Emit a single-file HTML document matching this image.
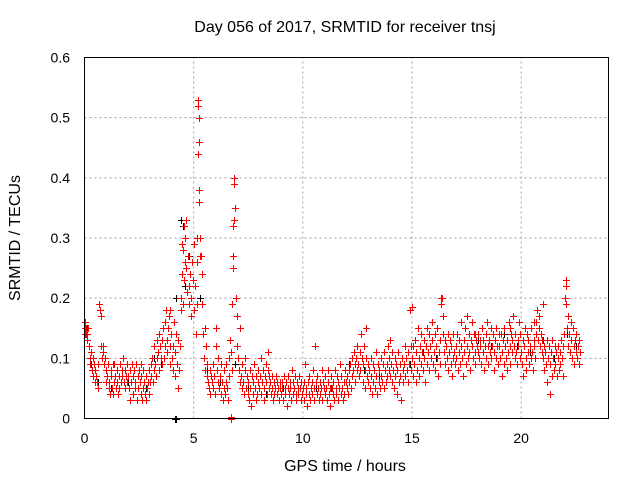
<!DOCTYPE html>
<html><head><meta charset="utf-8"><style>
body{margin:0;background:#fff;width:640px;height:480px;overflow:hidden}
svg{display:block;font-family:"Liberation Sans",sans-serif}
</style></head><body>
<svg id="chart" width="640" height="480" viewBox="0 0 640 480">
<text x="345" y="32" font-size="16" text-anchor="middle" fill="#000">Day 056 of 2017, SRMTID for receiver tnsj</text>
<g id="grid"></g>
<g id="ticks" font-size="14" fill="#000"></g>
<g id="marksB" stroke="#000" stroke-width="1"></g>
<g id="marksR" stroke="#f00" stroke-width="1"></g>
<rect x="84.5" y="57.5" width="524" height="361" fill="none" stroke="#000" stroke-width="1"/>
<text x="345" y="471" font-size="16" text-anchor="middle">GPS time / hours</text>
<text transform="translate(20,238) rotate(-90)" font-size="16" text-anchor="middle">SRMTID / TECUs</text>
</svg>
<script>
const xTicks=[0,5,10,15,20];
const yTicks=[0,0.1,0.2,0.3,0.4,0.5,0.6];
const yTickLabels=["0","0.1","0.2","0.3","0.4","0.5","0.6"];
const sampleStep=1/30; // hours between red samples
const redY=[
0.14,0.16,0.15,0.13,0.14,0.15,0.12,0.1,0.09,0.11,0.08,0.1,0.07,0.09,0.06,0.08,0.07,0.06,0.09,0.05,0.19,0.18,0.17,0.12,0.1,0.11,0.12,0.09,0.1,0.08,
0.06,0.07,0.09,0.05,0.06,0.04,0.07,0.08,0.05,0.04,0.06,0.09,0.07,0.05,0.08,0.06,0.04,0.07,0.05,0.09,0.06,0.08,0.07,0.1,0.06,0.05,0.08,0.07,0.06,0.09,
0.07,0.05,0.08,0.03,0.06,0.09,0.07,0.04,0.08,0.05,0.06,0.09,0.03,0.07,0.05,0.08,0.06,0.04,0.07,0.03,0.05,0.08,0.06,0.04,0.07,0.03,0.05,0.06,0.08,0.04,
0.06,0.09,0.07,0.1,0.06,0.08,0.12,0.09,0.07,0.13,0.1,0.11,0.14,0.08,0.12,0.1,0.09,0.13,0.15,0.1,0.12,0.16,0.18,0.13,0.11,0.15,0.17,0.12,0.09,0.14,
0.1,0.08,0.12,0.16,0.07,0.11,0.14,0.09,0.13,0.05,0.08,0.12,0.18,0.2,0.24,0.19,0.28,0.23,0.3,0.33,0.25,0.21,0.27,0.22,0.19,0.24,0.17,0.2,0.26,0.23,
0.29,0.18,0.22,0.14,0.26,0.19,0.53,0.46,0.36,0.3,0.27,0.24,0.19,0.14,0.1,0.15,0.08,0.12,0.07,0.09,0.06,0.05,0.08,0.04,0.07,0.06,0.09,0.05,0.07,0.04,
0.15,0.12,0.08,0.06,0.1,0.05,0.07,0.04,0.09,0.06,0.03,0.05,0.08,0.04,0.06,0.09,0.05,0.03,0.07,0.1,0.13,0.11,0.08,0.19,0.25,0.33,0.4,0.35,0.2,0.17,
0.12,0.1,0.08,0.06,0.15,0.07,0.05,0.09,0.06,0.04,0.08,0.1,0.05,0.07,0.04,0.06,0.03,0.08,0.05,0.02,0.07,0.04,0.06,0.09,0.05,0.03,0.07,0.04,0.06,0.08,
0.05,0.07,0.1,0.04,0.06,0.08,0.05,0.03,0.07,0.09,0.06,0.04,0.08,0.05,0.07,0.06,0.04,0.05,0.07,0.03,0.06,0.04,0.05,0.07,0.06,0.04,0.05,0.03,0.06,0.05,
0.04,0.06,0.05,0.03,0.07,0.05,0.04,0.06,0.02,0.05,0.07,0.04,0.06,0.05,0.03,0.08,0.04,0.06,0.05,0.07,0.04,0.03,0.06,0.05,0.04,0.07,0.05,0.03,0.06,0.04,
0.05,0.03,0.06,0.09,0.04,0.05,0.02,0.06,0.04,0.07,0.03,0.05,0.06,0.04,0.08,0.05,0.03,0.12,0.06,0.04,0.07,0.05,0.03,0.06,0.04,0.05,0.08,0.03,0.06,0.05,
0.04,0.07,0.05,0.03,0.06,0.08,0.04,0.05,0.02,0.07,0.05,0.04,0.06,0.03,0.08,0.05,0.04,0.07,0.03,0.06,0.05,0.09,0.04,0.07,0.05,0.03,0.06,0.04,0.08,0.06,
0.05,0.07,0.04,0.08,0.06,0.09,0.05,0.1,0.07,0.08,0.11,0.09,0.06,0.1,0.08,0.12,0.09,0.07,0.11,0.08,0.14,0.1,0.06,0.09,0.12,0.08,0.05,0.1,0.07,0.09,
0.06,0.08,0.05,0.1,0.07,0.04,0.09,0.06,0.08,0.05,0.11,0.07,0.04,0.09,0.06,0.08,0.05,0.1,0.07,0.06,0.09,0.05,0.11,0.08,0.06,0.09,0.07,0.12,0.08,0.1,
0.07,0.09,0.06,0.11,0.08,0.05,0.1,0.07,0.09,0.04,0.08,0.11,0.06,0.09,0.07,0.03,0.1,0.08,0.06,0.09,0.12,0.07,0.1,0.08,0.11,0.06,0.09,0.18,0.12,0.08,
0.1,0.07,0.12,0.09,0.13,0.06,0.11,0.08,0.15,0.1,0.07,0.12,0.09,0.14,0.11,0.08,0.13,0.1,0.06,0.12,0.15,0.09,0.11,0.14,0.08,0.12,0.1,0.16,0.13,0.09,
0.11,0.14,0.08,0.12,0.1,0.15,0.07,0.11,0.13,0.09,0.19,0.2,0.17,0.14,0.11,0.13,0.09,0.12,0.1,0.14,0.08,0.11,0.13,0.09,0.12,0.07,0.1,0.14,0.11,0.09,
0.12,0.1,0.14,0.08,0.11,0.13,0.09,0.12,0.16,0.1,0.07,0.13,0.11,0.15,0.09,0.12,0.17,0.1,0.14,0.11,0.08,0.13,0.12,0.16,0.1,0.14,0.11,0.09,0.13,0.12,
0.11,0.14,0.1,0.13,0.12,0.09,0.15,0.11,0.13,0.08,0.12,0.14,0.1,0.16,0.12,0.09,0.13,0.11,0.15,0.1,0.12,0.14,0.08,0.11,0.13,0.1,0.15,0.12,0.09,0.14,
0.12,0.1,0.14,0.07,0.11,0.13,0.09,0.15,0.12,0.1,0.08,0.13,0.11,0.16,0.12,0.09,0.14,0.11,0.13,0.17,0.12,0.1,0.14,0.11,0.09,0.13,0.12,0.16,0.1,0.14,
0.11,0.09,0.13,0.07,0.12,0.15,0.1,0.08,0.14,0.11,0.13,0.09,0.12,0.1,0.15,0.11,0.08,0.13,0.12,0.1,0.14,0.16,0.18,0.13,0.17,0.15,0.12,0.14,0.11,0.13,
0.1,0.12,0.08,0.11,0.09,0.13,0.06,0.1,0.12,0.04,0.09,0.11,0.07,0.13,0.1,0.08,0.12,0.09,0.11,0.07,0.1,0.12,0.08,0.11,0.09,0.13,0.1,0.07,0.12,0.14,
0.2,0.23,0.19,0.15,0.17,0.12,0.14,0.11,0.16,0.13,0.1,0.15,0.12,0.09,0.13,0.11,0.14,0.1,0.12,0.13,0.09,0.11
];
const redExtraX=[5.22,5.24,5.2,5.25,6.85,6.8,6.82,4.55,6.7,6.72,0.03,0.06,15.0,16.35,21.0,22.05,5.15,5.3,4.45,4.6,3.9,3.7,1.3,2.6,8.4,12.9,14.0,17.9,19.5,20.6,6.71];
const redExtraY=[0.52,0.5,0.44,0.38,0.39,0.32,0.27,0.32,0.0,0.0,0.15,0.14,0.185,0.2,0.19,0.22,0.3,0.27,0.29,0.26,0.18,0.12,0.09,0.09,0.11,0.15,0.13,0.14,0.15,0.16,0.002];
const blackX=[0.1,0.3,0.6,1.2,2.0,2.8,3.2,3.5,3.9,4.2,4.4,4.5,4.6,4.8,5.0,5.3,5.6,6.2,6.9,7.5,8.3,9.1,9.8,10.6,11.3,12.1,12.8,13.5,14.2,14.9,15.5,16.1,16.8,17.4,18.0,18.6,19.2,19.8,20.4,21.0,21.5,22.1,22.5,4.15,4.2];
const blackY=[0.15,0.09,0.06,0.05,0.06,0.05,0.1,0.09,0.12,0.2,0.33,0.32,0.22,0.27,0.18,0.2,0.08,0.06,0.09,0.05,0.04,0.05,0.04,0.05,0.05,0.09,0.08,0.07,0.1,0.09,0.11,0.1,0.12,0.11,0.13,0.12,0.14,0.12,0.11,0.13,0.1,0.14,0.12,0.0,0.0];
const X0=84.5,X1=608.5,Y0=418.5,Y1=57.5;
const xs=v=>X0+v/24*(X1-X0);
const ys=v=>Y0-v/0.6*(Y0-Y1);
const NS="http://www.w3.org/2000/svg";
const grid=document.getElementById('grid'),ticks=document.getElementById('ticks');
function mk(t,a){const e=document.createElementNS(NS,t);for(const k in a)e.setAttribute(k,a[k]);return e;}
yTicks.forEach((v,i)=>{
 const y=ys(v);
 if(i>0&&i<yTicks.length-1){const g=mk('line',{x1:X0,x2:X1,y1:y,y2:y,stroke:'#a0a0a0','stroke-dasharray':'2,3'});
 
 grid.appendChild(g);}
 const t=mk('text',{x:70,y:y+5,'text-anchor':'end'});t.textContent=yTickLabels[i];
 
 ticks.appendChild(t);
});
xTicks.forEach(v=>{
 const x=xs(v);
 if(v>0){const g=mk('line',{x1:x,x2:x,y1:Y0,y2:Y1,stroke:'#a0a0a0','stroke-dasharray':'2,3'});
 
 grid.appendChild(g);}
 const t=mk('text',{x:x,y:443,'text-anchor':'middle'});t.textContent=String(v);
 
 ticks.appendChild(t);
});
function plus(g,x,y){const cx=Math.round(xs(x))+0.5,cy=Math.round(ys(y))+0.5;
 const p=mk('path',{d:`M${cx-3.5} ${cy}h7M${cx} ${cy-3.5}v7`});
 
 g.appendChild(p);}
const gb=document.getElementById('marksB'),gr=document.getElementById('marksR');
blackX.forEach((x,i)=>plus(gb,x,blackY[i]));
redY.forEach((y,i)=>plus(gr,i*sampleStep,y));
redExtraX.forEach((x,i)=>plus(gr,x,redExtraY[i]));
</script>
</body></html>
